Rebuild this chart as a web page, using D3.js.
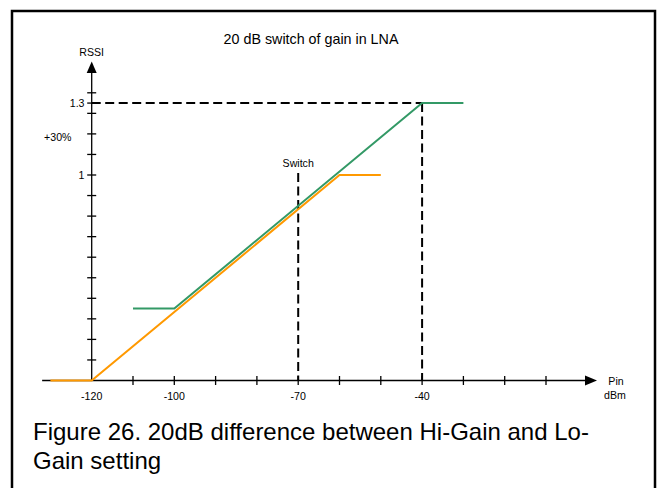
<!DOCTYPE html>
<html>
<head>
<meta charset="utf-8">
<script src="https://cdn.jsdelivr.net/npm/d3@7"></script>
<style>
  html, body { margin: 0; padding: 0; background: #fff; }
  svg { display: block; font-family: "Liberation Sans", Arial, sans-serif; }
</style>
</head>
<body>
<svg id="chart" width="662" height="488"></svg>
<script>
// ---- data ----
const loGainPin = [-130, -120, -60, -50];
const loGainRssi = [0, 0, 1, 1];
const hiGainPin = [-110, -100, -40, -30];
const hiGainRssi = [0.35, 0.35, 1.35, 1.35];
const xTickValues = [-110, -100, -90, -80, -70, -60, -50, -40, -30, -20, -10];
const xTickLabels = [-120, -100, -70, -40];
const yTickValues = [0.1, 0.2, 0.3, 0.4, 0.5, 0.6, 0.7, 0.8, 0.9, 1.0, 1.1, 1.2, 1.3, 1.35, 1.4];
const yLevelValues = [1, 1.35];
const yLevelLabels = ["1", "1.3"];
const switchPin = -70;
const saturationPin = -40;
const saturationRssi = 1.35;
const titleText = "20 dB switch of gain in LNA";
const captionLines = ["Figure 26. 20dB difference between Hi-Gain and Lo-", "Gain setting"];

const svg = d3.select("#chart");
const x = d3.scaleLinear().domain([-120, -100]).range([91.7, 174.3]);
const y = d3.scaleLinear().domain([0, 1]).range([380.5, 175]);
const fs = 10.6;

// frame
svg.append("rect").attr("x", 12).attr("y", 11).attr("width", 643).attr("height", 500)
  .attr("fill", "none").attr("stroke", "#000").attr("stroke-width", 2.5);

// title
svg.append("text").attr("x", 311).attr("y", 44).attr("text-anchor", "middle")
  .attr("font-size", 14.3).text(titleText);

// axes
const ax = svg.append("g").attr("stroke", "#000").attr("stroke-width", 1.3);
ax.append("line").attr("x1", x(-132)).attr("x2", 586).attr("y1", y(0)).attr("y2", y(0));
ax.append("line").attr("x1", x(-120)).attr("x2", x(-120)).attr("y1", y(0)).attr("y2", 72);
svg.append("path").attr("d", `M${x(-120)},61.5 L${x(-120) - 5},73 L${x(-120) + 5},73 Z`).attr("fill", "#000");
svg.append("path").attr("d", `M597,${y(0)} L585,${y(0) - 5} L585,${y(0) + 5} Z`).attr("fill", "#000");

ax.selectAll("line.xt").data(xTickValues).enter().append("line").attr("class", "xt")
  .attr("x1", d => x(d)).attr("x2", d => x(d)).attr("y1", y(0) - 4.5).attr("y2", y(0) + 4.5);
ax.selectAll("line.yt").data(yTickValues).enter().append("line").attr("class", "yt")
  .attr("x1", x(-120) - 4.5).attr("x2", x(-120) + 4.5).attr("y1", d => y(d)).attr("y2", d => y(d));

// tick labels
svg.selectAll("text.xl").data(xTickLabels).enter().append("text").attr("class", "xl")
  .attr("x", d => x(d)).attr("y", 400).attr("text-anchor", "middle").attr("font-size", fs)
  .text(d => d);
svg.selectAll("text.yl").data(yLevelValues).enter().append("text").attr("class", "yl")
  .attr("x", 84.5).attr("y", d => y(d) + 4).attr("text-anchor", "end").attr("font-size", fs)
  .text((d, i) => yLevelLabels[i]);
svg.append("text").attr("x", 71.5).attr("y", 141).attr("text-anchor", "end").attr("font-size", fs).text("+30%");
svg.append("text").attr("x", x(-120)).attr("y", 55.5).attr("text-anchor", "middle").attr("font-size", fs).text("RSSI");
svg.append("text").attr("x", 616).attr("y", 384.5).attr("text-anchor", "middle").attr("font-size", fs).text("Pin");
svg.append("text").attr("x", 615).attr("y", 398.5).attr("text-anchor", "middle").attr("font-size", fs).text("dBm");
svg.append("text").attr("x", x(switchPin)).attr("y", 166.5).attr("text-anchor", "middle").attr("font-size", fs).text("Switch");

// dashed guides
const dash = svg.append("g").attr("stroke", "#000").attr("stroke-width", 2).attr("stroke-dasharray", "9,4.5");
dash.append("line").attr("x1", x(-120)).attr("x2", x(saturationPin)).attr("y1", y(saturationRssi)).attr("y2", y(saturationRssi));
dash.append("line").attr("x1", x(saturationPin)).attr("x2", x(saturationPin)).attr("y1", y(saturationRssi)).attr("y2", y(0));
dash.append("line").attr("x1", x(switchPin)).attr("x2", x(switchPin)).attr("y1", y(1) - 2).attr("y2", y(0));

// curves
const line = d3.line().x(d => x(d[0])).y(d => y(d[1]));
svg.append("path").datum(d3.zip(loGainPin, loGainRssi)).attr("d", line)
  .attr("fill", "none").attr("stroke", "#FF9900").attr("stroke-width", 2);
svg.append("path").datum(d3.zip(hiGainPin, hiGainRssi)).attr("d", line)
  .attr("fill", "none").attr("stroke", "#339966").attr("stroke-width", 2);

// caption
svg.selectAll("text.cap").data(captionLines).enter().append("text").attr("class", "cap")
  .attr("x", 33).attr("y", (d, i) => 440 + i * 29).attr("font-size", 24).text(d => d);
</script>
</body>
</html>
